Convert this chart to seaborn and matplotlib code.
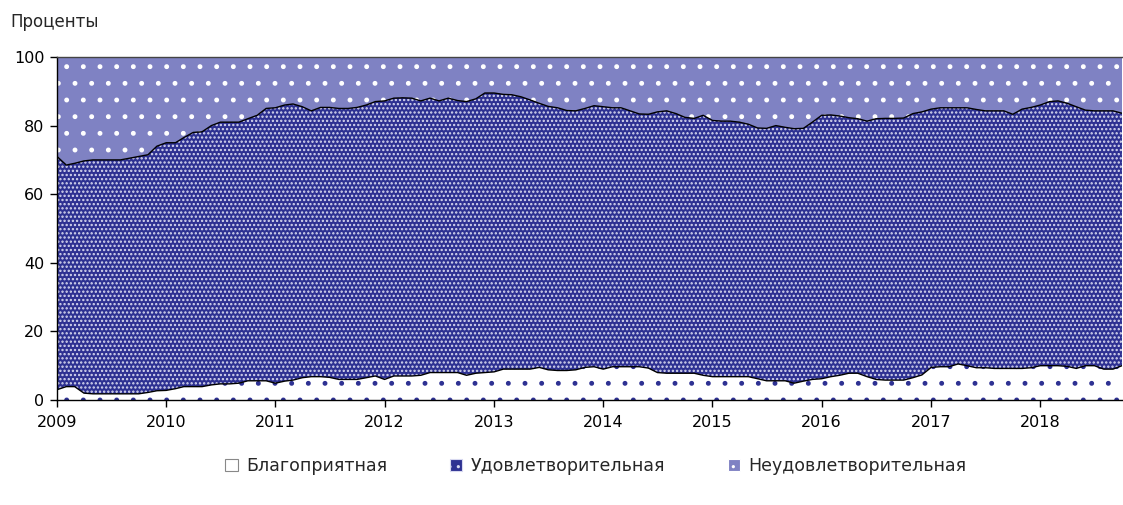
import numpy as np
import pandas as pd
import matplotlib.pyplot as plt
import matplotlib.patches as mpatches
import seaborn as sns

# monthly shares, Jan 2009 - Oct 2018, percent
fav = [3.0, 3.9, 3.9, 2.0, 1.8, 1.8, 1.8, 1.8, 1.8, 1.8, 2.2, 2.7,
       2.8, 3.3, 3.9, 3.9, 3.9, 4.4, 4.7, 4.7, 4.9, 5.6, 5.6, 5.6,
       4.9, 5.5, 5.8, 6.5, 6.8, 6.8, 6.6, 6.0, 6.0, 6.0, 6.5, 7.0,
       6.0, 7.0, 7.0, 7.0, 7.2, 8.0, 8.0, 8.0, 8.0, 7.2, 7.8, 8.0,
       8.2, 9.0, 9.0, 9.0, 9.0, 9.5, 8.8, 8.6, 8.6, 8.8, 9.5, 9.7,
       9.0, 9.7, 9.7, 9.7, 9.7, 9.3, 8.0, 7.8, 7.8, 7.8, 7.8, 7.2,
       6.8, 6.8, 6.8, 6.8, 6.8, 6.2, 5.6, 5.6, 5.6, 4.9, 5.5, 6.0,
       6.2, 6.8, 7.2, 7.8, 7.8, 6.8, 6.0, 5.8, 5.8, 5.8, 6.5, 7.3,
       9.5, 9.7, 9.7, 10.5, 10.0, 9.4, 9.4, 9.2, 9.2, 9.2, 9.2, 9.4,
       10.0, 10.0, 10.0, 9.8, 9.2, 10.0, 10.0, 9.0, 9.0, 10.0]

sat = [68.0, 64.6, 65.1, 67.7, 68.2, 68.2, 68.2, 68.2, 68.7, 69.2, 69.3, 71.3,
       72.2, 71.7, 72.6, 74.1, 74.3, 75.6, 76.3, 76.3, 76.1, 76.4, 77.4, 79.4,
       80.3, 80.5, 80.5, 79.0, 77.5, 78.5, 78.7, 79.0, 79.0, 79.3, 79.5, 80.0,
       81.2, 81.0, 81.1, 81.0, 80.0, 80.0, 79.2, 80.0, 79.3, 79.8, 80.0, 81.5,
       81.3, 80.1, 80.0, 79.4, 78.5, 77.0, 76.8, 76.6, 75.8, 75.5, 75.5, 76.1,
       76.5, 75.5, 75.5, 74.6, 73.7, 74.0, 76.0, 76.5, 75.7, 74.6, 74.3, 75.8,
       74.7, 74.5, 74.5, 74.2, 73.6, 73.1, 73.6, 74.4, 73.9, 74.2, 73.7, 75.0,
       76.8, 76.3, 75.6, 74.5, 74.2, 74.5, 76.0, 76.3, 76.3, 76.4, 77.0, 76.7,
       75.3, 75.5, 75.5, 74.7, 75.2, 75.3, 74.9, 75.1, 75.1, 74.1, 75.6, 75.9,
       76.0, 77.0, 77.2, 76.7, 76.3, 74.5, 74.3, 75.3, 75.3, 73.6]

unsat = [29.0, 31.5, 31.0, 30.3, 30.0, 30.0, 30.0, 30.0, 29.5, 29.0, 28.5, 26.0,
         25.0, 25.0, 23.5, 22.0, 21.8, 20.0, 19.0, 19.0, 19.0, 18.0, 17.0, 15.0,
         14.8, 14.0, 13.7, 14.5, 15.7, 14.7, 14.7, 15.0, 15.0, 14.7, 14.0, 13.0,
         12.8, 12.0, 11.9, 12.0, 12.8, 12.0, 12.8, 12.0, 12.7, 13.0, 12.2, 10.5,
         10.5, 10.9, 11.0, 11.6, 12.5, 13.5, 14.4, 14.8, 15.6, 15.7, 15.0, 14.2,
         14.5, 14.8, 14.8, 15.7, 16.6, 16.7, 16.0, 15.7, 16.5, 17.6, 17.9, 17.0,
         18.5, 18.7, 18.7, 19.0, 19.6, 20.7, 20.8, 20.0, 20.5, 20.9, 20.8, 19.0,
         17.0, 16.9, 17.2, 17.7, 18.0, 18.7, 18.0, 17.9, 17.9, 17.8, 16.5, 16.0,
         15.2, 14.8, 14.8, 14.8, 14.8, 15.3, 15.7, 15.7, 15.7, 16.7, 15.2, 14.7,
         14.0, 13.0, 12.8, 13.5, 14.5, 15.5, 15.7, 15.7, 15.7, 16.4]

labels = ["Благоприятная", "Удовлетворительная", "Неудовлетворительная"]
years = list(range(2009, 2019))
yticks = [0, 20, 40, 60, 80, 100]

dates = pd.date_range("2009-01-01", periods=len(fav), freq="MS")
df = pd.DataFrame({"date": dates, "fav": fav, "sat": sat, "unsat": unsat})
df["b1"] = df["fav"]
df["b2"] = df["b1"] + df["sat"]
df["b3"] = df["b2"] + df["unsat"]

navy = "#2e3192"
light = "#7f82c3"

sns.set_theme(style="ticks")
plt.rcParams["font.family"] = ["DejaVu Sans"]
plt.rcParams["hatch.linewidth"] = 1.1

fig = plt.figure(figsize=(11.23, 5.05), dpi=100)
ax = fig.add_axes([57 / 1123, 105 / 505, 1065 / 1123, 343 / 505])

ax.fill_between(df["date"], df["b2"], df["b3"], facecolor=light,
                edgecolor="white", hatch=".", linewidth=0)
ax.fill_between(df["date"], df["b1"], df["b2"], facecolor=navy,
                edgecolor="#d8d9f0", hatch="....", linewidth=0)
ax.fill_between(df["date"], 0, df["b1"], facecolor="white",
                edgecolor=navy, hatch=".", linewidth=0)

sns.lineplot(data=df, x="date", y="b1", color="black", lw=1, ax=ax)
sns.lineplot(data=df, x="date", y="b2", color="black", lw=1, ax=ax)

ax.set_xlim(dates[0], dates[-1])
ax.set_ylim(0, 100)
ax.set_xticks([pd.Timestamp(f"{y}-01-01") for y in years])
ax.set_xticklabels([str(y) for y in years])
ax.set_yticks(yticks)
ax.set_xlabel("")
ax.set_ylabel("")
ax.tick_params(axis="both", direction="out", length=5, width=1,
               color="black", labelsize=11.5, labelcolor="black")
ax.tick_params(axis="y", pad=4)
ax.tick_params(axis="x", pad=6)
for s in ["left", "bottom"]:
    ax.spines[s].set_color("black")
    ax.spines[s].set_linewidth(1)
ax.spines["top"].set_color("#444444")
ax.spines["top"].set_linewidth(1)
ax.spines["right"].set_visible(False)

fig.text(10 / 1123, 1 - 22 / 505, "Проценты", fontsize=12, va="center", ha="left")

handles = [
    mpatches.Patch(facecolor="white", edgecolor="#888888", linewidth=0.8),
    mpatches.Patch(facecolor=navy, edgecolor="#d8d9f0", hatch="..", linewidth=0.8),
    mpatches.Patch(facecolor=light, edgecolor="white", hatch="..", linewidth=0.8),
]
fig.legend(handles, labels, loc="center", bbox_to_anchor=(596 / 1123, 1 - 466 / 505),
           ncol=3, frameon=False, handlelength=0.7, handleheight=0.7,
           handletextpad=0.5, columnspacing=3.6, fontsize=12.5)

fig.savefig("out.png", dpi=100)
